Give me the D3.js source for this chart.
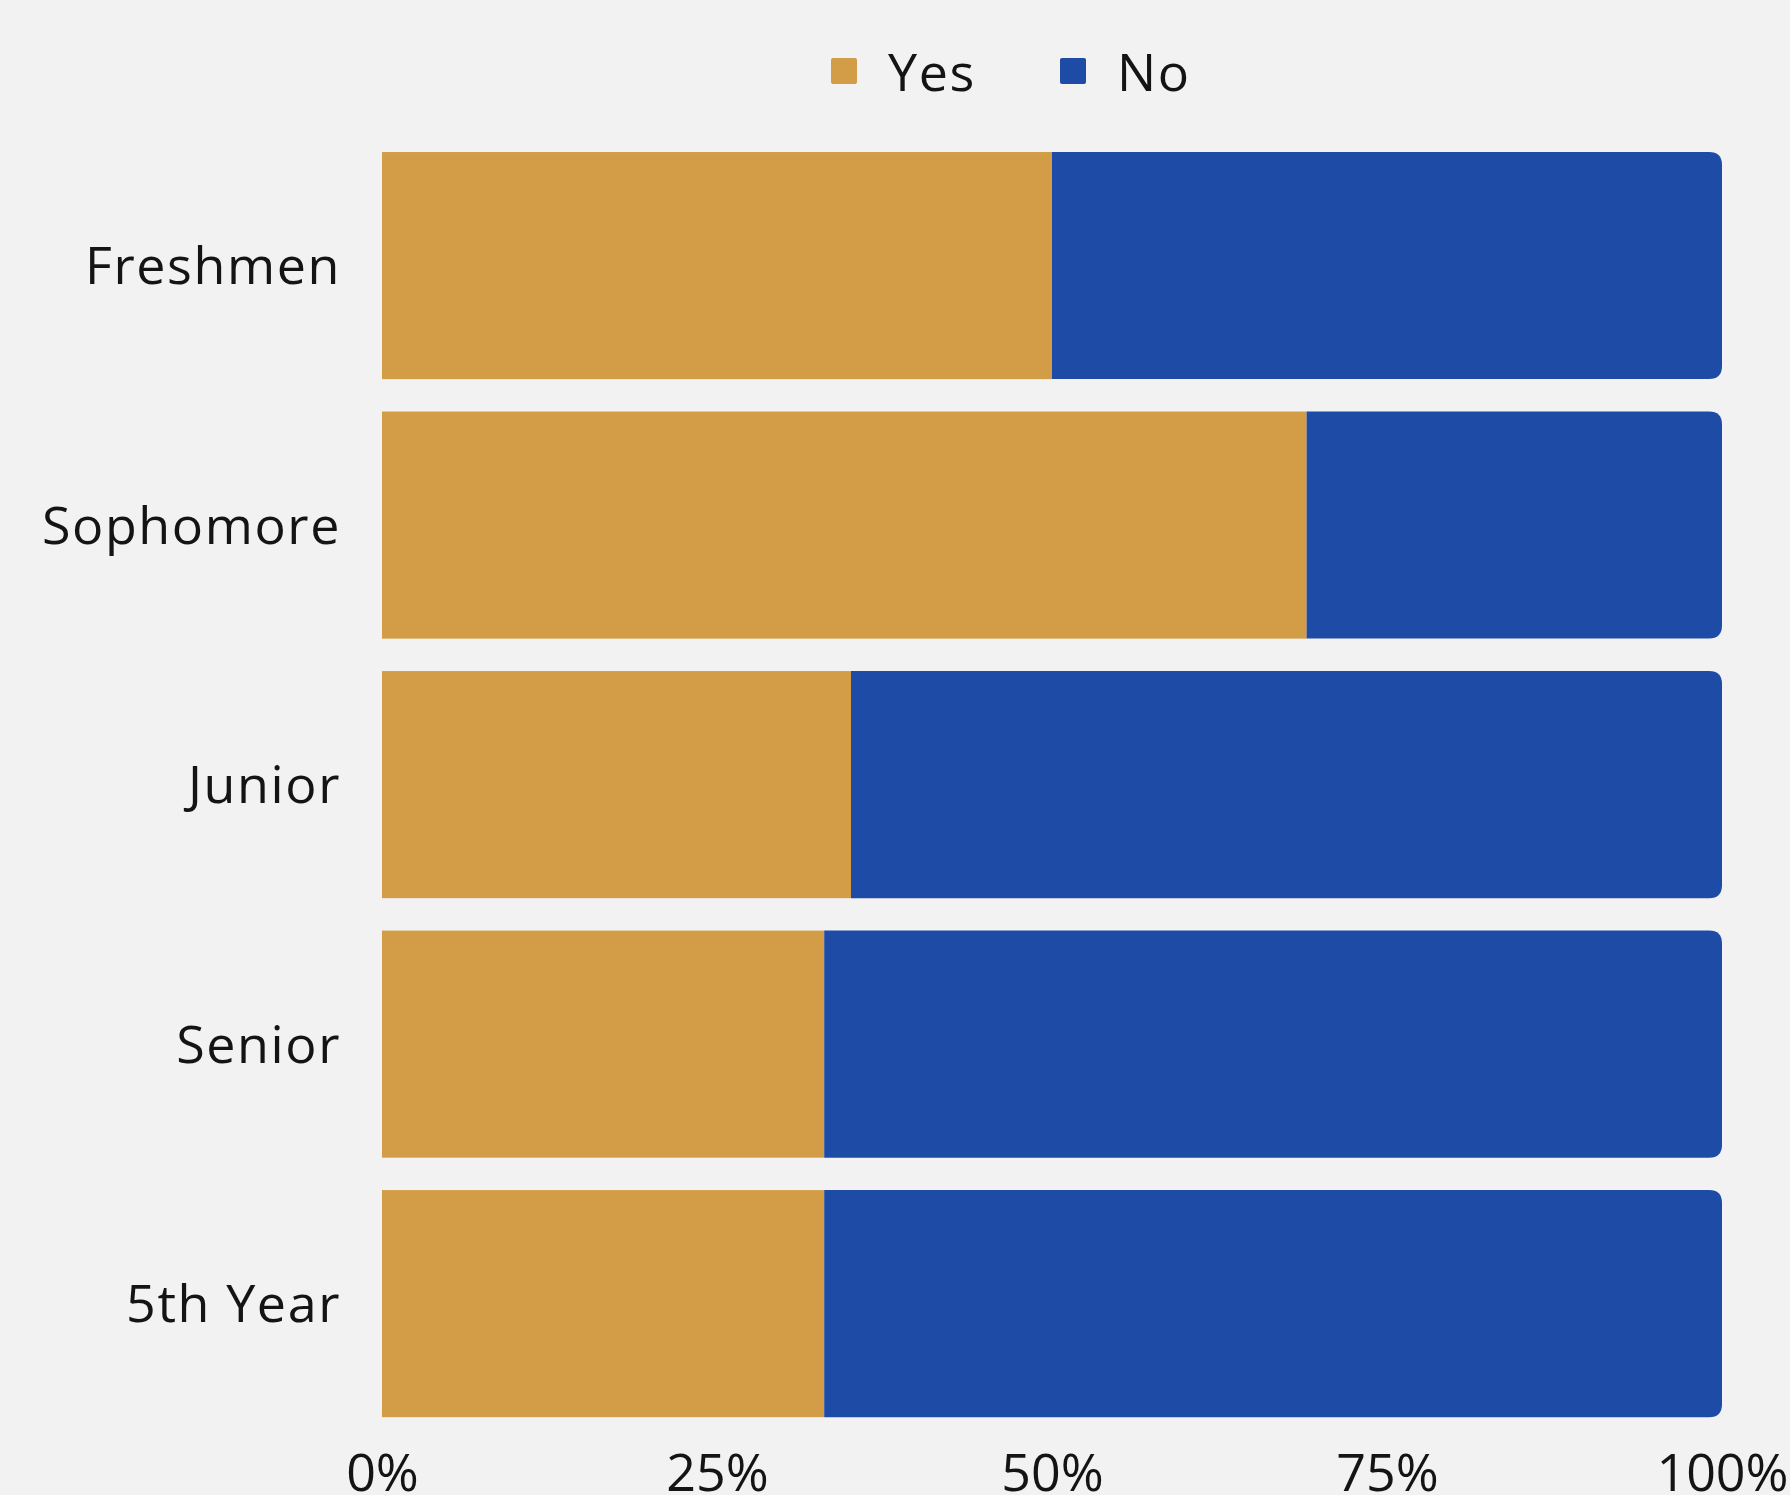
<!DOCTYPE html>
<html><head><meta charset="utf-8">
<script src="https://cdn.jsdelivr.net/npm/d3@7"></script>
<style>
html,body{margin:0;padding:0;background:#f2f2f2;}
svg{display:block;}
text{font-family:"Open Sans",sans-serif;fill:#141414;}
</style></head>
<body>
<svg id="chart" width="1790" height="1495"></svg>
<script>
const categories = ["Freshmen", "Sophomore", "Junior", "Senior", "5th Year"];
const yesValues = [50, 69, 35, 33, 33];
const noValues = [50, 31, 65, 67, 67];
const seriesNames = ["Yes", "No"];
const seriesColors = ["#d39c46", "#1e4ba6"];
const tickValues = [0, 25, 50, 75, 100];
const tickLabels = ["0%", "25%", "50%", "75%", "100%"];

const svg = d3.select("#chart");
const W = 1790, H = 1495;
svg.append("rect").attr("width", W).attr("height", H).attr("fill", "#f2f2f2");

const x = d3.scaleLinear().domain([0, 100]).range([382, 1722]);
const y = d3.scaleBand().domain(categories).range([119.6, 1449.6]).padding(0.125);

const rows = categories.map((c, i) => ({cat: c, yes: yesValues[i], no: noValues[i]}));

// Yes segments
svg.selectAll("rect.yes").data(rows).enter().append("rect")
  .attr("class", "yes")
  .attr("x", x(0))
  .attr("y", d => y(d.cat))
  .attr("width", d => x(d.yes) - x(0))
  .attr("height", y.bandwidth())
  .attr("fill", seriesColors[0]);

// No segments with rounded right corners
const r = 13;
function noPath(d) {
  const x0 = x(d.yes), x1 = x(d.yes + d.no);
  const y0 = y(d.cat), y1 = y0 + y.bandwidth();
  return `M${x0},${y0} H${x1 - r} Q${x1},${y0} ${x1},${y0 + r} V${y1 - r} Q${x1},${y1} ${x1 - r},${y1} H${x0} Z`;
}
svg.selectAll("path.no").data(rows).enter().append("path")
  .attr("class", "no")
  .attr("d", noPath)
  .attr("fill", seriesColors[1]);

// Category labels
const yAxis = d3.axisLeft(y).tickSize(0).tickPadding(0);
const gy = svg.append("g").attr("transform", "translate(341,0)").call(yAxis);
gy.select(".domain").remove();
gy.selectAll("text")
  .attr("font-size", 52)
  .attr("font-family", "'Open Sans', sans-serif")
  .attr("letter-spacing", 1.6)
  .attr("fill", "#141414")
  .attr("dy", "0.36em")
  .attr("x", 0)
  .attr("text-anchor", "end");

// X axis labels
const xAxis = d3.axisBottom(x).tickValues(tickValues).tickFormat((d, i) => tickLabels[i]).tickSize(0).tickPadding(0);
const gx = svg.append("g").attr("transform", "translate(0,1491)").call(xAxis);
gx.select(".domain").remove();
gx.selectAll("text")
  .attr("font-size", 52)
  .attr("font-family", "'Open Sans', sans-serif")
  .attr("fill", "#141414")
  .attr("y", 0)
  .attr("dy", 0);

// Legend
const legendX = [831, 1060];
const legend = svg.append("g");
seriesNames.forEach((name, i) => {
  legend.append("rect")
    .attr("x", legendX[i]).attr("y", 58)
    .attr("width", 26).attr("height", 26).attr("rx", 2)
    .attr("fill", seriesColors[i]);
  legend.append("text")
    .attr("x", legendX[i] + 57).attr("y", 91)
    .attr("font-size", 52)
    .attr("letter-spacing", 1.6)
    .text(name);
});
</script>
</body></html>
